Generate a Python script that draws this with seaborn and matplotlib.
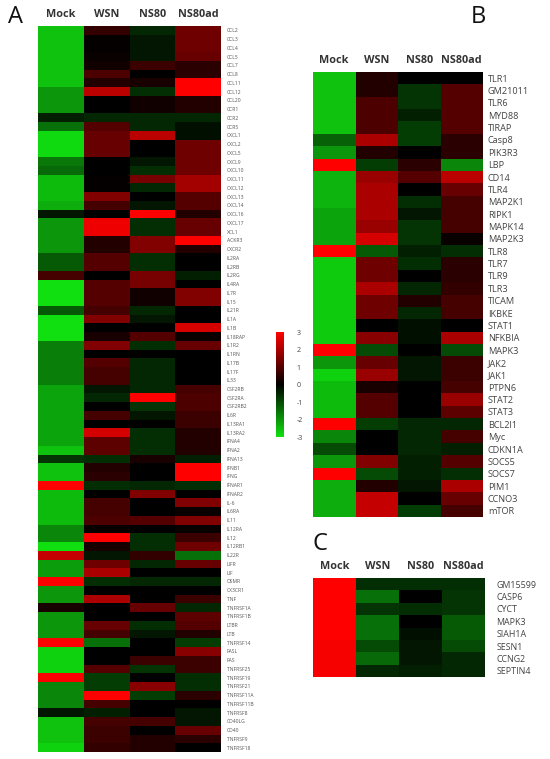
import numpy as np
import pandas as pd
import seaborn as sns
import matplotlib
matplotlib.use("Agg")
import matplotlib.pyplot as plt
from matplotlib.colors import LinearSegmentedColormap

columns = ["Mock", "WSN", "NS80", "NS80ad"]

# ---------------- Panel A ----------------
a_genes = ["CCL2", "CCL3", "CCL4", "CCL5", "CCL7", "CCL8", "CCL11", "CCL12", "CCL20", "CCR1",
           "CCR2", "CCR5", "CXCL1", "CXCL2", "CXCL5", "CXCL9", "CXCL10", "CXCL11", "CXCL12", "CXCL13",
           "CXCL14", "CXCL16", "CXCL17", "XCL1", "ACKR3", "CXCR2", "IL2RA", "IL2RB", "IL2RG", "IL4RA",
           "IL7R", "IL15", "IL21R", "IL1A", "IL1B", "IL18RAP", "IL1R2", "IL1RN", "IL17B", "IL17F",
           "IL33", "CSF2RB", "CSF2RA", "CSF2RB2", "IL6R", "IL13RA1", "IL13RA2", "IFNA4", "IFNA2", "IFNA13",
           "IFNB1", "IFNG", "IFNAR1", "IFNAR2", "IL-6", "IL6RA", "IL11", "IL12RA", "IL12", "IL12RB1",
           "IL22R", "LIFR", "LIF", "OSMR", "CX3CR1", "TNF", "TNFRSF1A", "TNFRSF1B", "LTBR", "LTB",
           "TNFRSF14", "FASL", "FAS", "TNFRSF25", "TNFRSF19", "TNFRSF21", "TNFRSF11A", "TNFRSF11B", "TNFRSF8", "CD40LG",
           "CD40", "TNFRSF9", "TNFRSF18"]
a_mock = [-2.6, -2.6, -2.6, -2.6, -2.6, -2.6, -2.6, -2.0, -2.0, -2.0,
          -0.4, -1.5, -2.9, -2.9, -2.9, -1.6, -1.4, -2.5, -2.5, -2.5,
          -2.3, -0.3, -2.0, -2.0, -2.0, -2.0, -1.2, -1.2, 0.8, -3.0,
          -3.0, -3.0, -1.2, -3.0, -3.0, -3.0, -1.7, -1.7, -1.7, -1.7,
          -1.7, -2.2, -2.2, -2.2, -2.2, -2.2, -2.2, -2.2, -2.6, -0.7,
          -2.6, -2.6, 3.0, -2.5, -2.5, -2.5, -2.5, -1.8, -1.8, -3.0,
          2.3, -2.1, -2.1, 3.0, -2.0, -2.0, 0.3, -2.0, -2.0, -2.0,
          3.0, -2.8, -2.8, -2.8, 3.0, -1.8, -1.8, -1.8, -0.3, -2.6,
          -2.6, -2.6, -2.8]
a_wsn = [0.6, 0.05, 0.05, 0.1, 0.2, 0.9, 0.4, 2.2, 0.0, 0.0,
         -0.5, 1.0, 1.2, 1.2, 1.2, 0.0, 0.0, 0.05, 0.05, 1.5,
         0.8, 0.0, 2.8, 2.8, 0.4, 0.4, 1.0, 1.0, 0.0, 1.0,
         1.0, 1.0, 0.8, 1.5, 0.0, 0.3, 1.5, 0.0, 1.0, 0.8,
         0.8, -0.3, -0.5, 0.0, 0.8, 0.0, 2.5, 1.1, 1.1, -0.6,
         0.4, 0.5, -0.6, 0.0, 0.8, 0.8, 0.9, 0.1, 3.0, 0.3,
         -0.3, 1.3, 2.0, -0.6, 0.0, 2.0, 0.0, 0.0, 1.2, 0.8,
         -1.5, 0.0, 0.0, 1.0, -0.8, -0.8, 3.0, 0.8, -0.4, 0.8,
         0.7, 0.7, 0.6]
a_ns80 = [-0.5, -0.3, -0.3, -0.3, 0.7, 0.0, 0.3, -0.6, 0.2, 0.2,
          -0.5, -0.5, 2.2, 0.0, 0.0, -0.3, -0.6, 1.4, -0.5, 0.0,
          -0.3, 3.0, -0.6, -0.6, 1.5, 1.5, -0.6, -0.6, 1.4, 1.4,
          0.2, 0.2, -0.5, -0.3, 0.0, 1.0, -0.6, 0.0, -0.5, -0.5,
          -0.5, -0.5, 3.0, -0.7, -0.3, 0.0, -0.6, -0.6, -0.6, 0.3,
          0.0, 0.0, -0.5, 1.5, 0.0, 0.0, 1.0, 0.0, -0.6, -0.6,
          0.6, -0.5, 0.0, -0.5, 0.0, 0.0, 1.2, 0.0, -0.6, -0.3,
          0.0, 0.0, 0.7, -0.7, 0.0, 1.6, -0.8, 0.0, 0.0, 0.8,
          0.0, 0.4, 0.4]
a_ns80ad = [1.3, 1.3, 1.3, 1.2, 0.5, 0.5, 3.0, 3.0, 0.4, 0.4,
            -0.5, -0.2, -0.2, 1.3, 1.3, 1.3, 1.3, 1.9, 1.9, 1.0,
            1.0, 0.4, 1.2, 1.2, 3.0, 0.4, 0.0, 0.0, -0.4, 0.0,
            1.5, 1.5, 0.0, 0.0, 2.5, 0.1, 1.2, 0.0, 0.0, 0.0,
            0.0, 0.8, 0.9, 0.9, 0.7, 0.7, 0.4, 0.4, 0.4, -0.4,
            3.0, 3.0, -0.6, 0.0, 1.5, 0.1, 1.5, 0.1, 0.7, 1.3,
            -1.5, 1.2, 0.0, -0.5, 0.0, 0.7, -0.5, 1.1, 1.0, 0.4,
            -0.8, 1.6, 0.7, 0.7, -0.6, -0.6, 0.5, 0.0, -0.3, -0.3,
            1.2, 0.5, 0.0]

# ---------------- Panel B ----------------
b_genes = ["TLR1", "GM21011", "TLR6", "MYD88", "TIRAP", "Casp8", "PIK3R3", "LBP", "CD14", "TLR4",
           "MAP2K1", "RIPK1", "MAPK14", "MAP2K3", "TLR8", "TLR7", "TLR9", "TLR3", "TICAM", "IKBKE",
           "STAT1", "NFKBIA", "MAPK3", "JAK2", "JAK1", "PTPN6", "STAT2", "STAT3", "BCL2l1", "Myc",
           "CDKN1A", "SOCS5", "SOCS7", "PIM1", "CCNO3", "mTOR"]
b_mock = [-2.6, -2.6, -2.6, -2.6, -2.6, -1.3, -2.0, 3.0, -2.4, -2.4,
          -2.4, -2.2, -2.2, -2.2, 3.0, -2.7, -2.7, -2.7, -2.7, -2.7,
          -2.7, -2.7, 3.0, -2.0, -2.8, -2.5, -2.5, -2.5, 3.0, -1.8,
          -1.0, -2.0, 3.0, -2.3, -2.3, -2.3]
b_wsn = [0.4, 0.4, 0.9, 0.9, 0.9, 2.0, 0.4, -0.8, 1.8, 2.0,
         2.0, 2.0, 1.8, 2.5, -1.2, 1.3, 1.3, 2.0, 1.3, 1.3,
         0.0, 1.6, -1.0, 1.2, 1.8, 0.3, 1.0, 1.0, -0.8, 0.0,
         0.0, 1.5, -1.0, 0.4, 2.3, 2.3]
b_ns80 = [0.0, -0.7, -0.7, -0.4, -0.8, -0.8, 0.0, 0.5, 1.0, 0.0,
          -0.6, -0.3, -0.7, -0.7, -0.4, -0.6, 0.0, -0.5, 0.4, -0.5,
          -0.2, -0.2, 0.0, -0.3, -0.3, 0.0, 0.0, 0.0, -0.5, -0.5,
          -0.5, -0.4, -0.4, -0.3, 0.0, -0.8]
b_ns80ad = [0.0, 1.0, 1.0, 1.0, 1.0, 0.5, 0.5, -1.8, 2.2, 1.2,
            0.8, 0.8, 0.8, 0.1, -0.6, 0.5, 0.5, 0.6, 0.8, 0.8,
            0.0, 2.0, -1.0, 0.7, 0.7, 0.8, 1.8, 1.1, -0.5, 0.8,
            -0.4, 1.0, -0.6, 2.0, 1.2, 0.8]

# ---------------- Panel C ----------------
c_genes = ["GM15599", "CASP6", "CYCT", "MAPK3", "SIAH1A", "SESN1", "CCNG2", "SEPTIN4"]
c_mock = [3.0, 3.0, 3.0, 3.0, 3.0, 2.9, 2.9, 2.9]
c_wsn = [-0.6, -1.5, -0.7, -1.5, -1.5, -1.0, -1.4, -0.5]
c_ns80 = [-0.6, 0.0, -0.6, 0.0, -0.2, -0.3, -0.3, -0.4]
c_ns80ad = [-0.6, -0.7, -0.7, -1.2, -1.2, -1.0, -0.5, -0.5]

cbar_ticks = [3, 2, 1, 0, -1, -2, -3]

dfA = pd.DataFrame({"Mock": a_mock, "WSN": a_wsn, "NS80": a_ns80, "NS80ad": a_ns80ad}, index=a_genes)[columns]
dfB = pd.DataFrame({"Mock": b_mock, "WSN": b_wsn, "NS80": b_ns80, "NS80ad": b_ns80ad}, index=b_genes)[columns]
dfC = pd.DataFrame({"Mock": c_mock, "WSN": c_wsn, "NS80": c_ns80, "NS80ad": c_ns80ad}, index=c_genes)[columns]

sns.set_style("white")
plt.rcParams["font.family"] = ["Open Sans", "DejaVu Sans"]

cmap = LinearSegmentedColormap.from_list("gkr", ["#10e010", "#000000", "#ff0000"])

W, H = 550, 759
fig = plt.figure(figsize=(W / 100, H / 100), dpi=100)
fig.patch.set_facecolor("white")


def box(x0, y0, x1, y1):
    return [x0 / W, 1 - y1 / H, (x1 - x0) / W, (y1 - y0) / H]


axA = fig.add_axes(box(38, 26, 221, 752))
cax = fig.add_axes(box(276, 332, 284, 437))
axB = fig.add_axes(box(313, 72, 483, 517))
axC = fig.add_axes(box(313, 578, 485, 677))

sns.heatmap(dfA, ax=axA, cmap=cmap, vmin=-3, vmax=3, cbar_ax=cax,
            xticklabels=True, yticklabels=True)
sns.heatmap(dfB, ax=axB, cmap=cmap, vmin=-3, vmax=3, cbar=False,
            xticklabels=True, yticklabels=True)
sns.heatmap(dfC, ax=axC, cmap=cmap, vmin=-3, vmax=3, cbar=False,
            xticklabels=True, yticklabels=True)

for ax, rfs, rcol, pad in [(axA, 3.6, "#555555", 4), (axB, 6.6, "#444444", 3.5), (axC, 6.4, "#444444", 8)]:
    ax.xaxis.tick_top()
    ax.set_xlabel("")
    ax.set_ylabel("")
    ax.tick_params(axis="x", length=0, pad=4.5, labelsize=7.8, labelcolor="#333333")
    for t in ax.get_xticklabels():
        t.set_fontweight("bold")
        t.set_rotation(0)
    ax.yaxis.tick_right()
    ax.tick_params(axis="y", length=0, pad=pad, labelsize=rfs, labelcolor=rcol)
    for t in ax.get_yticklabels():
        t.set_rotation(0)
        t.set_ha("left")

cbar = axA.collections[0].colorbar
cbar.outline.set_visible(False)
cbar.set_ticks(cbar_ticks)
cbar.set_ticklabels([str(v) for v in cbar_ticks])
cax.tick_params(length=0, pad=9, labelsize=5, labelcolor="#444444")

fig.text(15 / W, 1 - 17 / H, "A", fontsize=17, ha="center", va="center", color="#111111")
fig.text(478 / W, 1 - 17 / H, "B", fontsize=17, ha="center", va="center", color="#111111")
fig.text(320 / W, 1 - 544 / H, "C", fontsize=17, ha="center", va="center", color="#111111")

fig.savefig("out.png", dpi=100, facecolor="white")
